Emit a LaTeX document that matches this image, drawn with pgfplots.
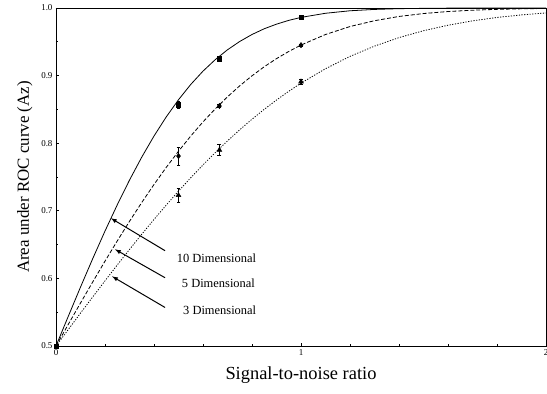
\documentclass[border=0pt]{standalone}
\usepackage{fontspec}
\setmainfont{Liberation Serif}
\usepackage{pgfplots}
\pgfplotsset{compat=1.18}
\begin{document}
\begin{tikzpicture}
\begin{axis}[name=ax,
  scale only axis, width=490bp, height=338bp,
  xmin=0, xmax=2, ymin=0.5, ymax=1.0,
  xtick={0,1,2}, ytick={0.5,0.6,0.7,0.8,0.9,1.0},
  yticklabels={0.5,0.6,0.7,0.8,0.9,1.0},
  minor x tick num=4, minor y tick num=1,
  tick pos=left, tick align=inside,
  major tick length=3pt, minor tick length=2pt,
  axis line style={line width=0.9pt},
  tick style={line width=0.7pt, black},
  tick label style={font=\fontsize{9}{10}\selectfont},
  /pgf/number format/assume math mode=true,
  xlabel={Signal-to-noise ratio}, ylabel={Area under ROC curve (Az)},
  xlabel style={font=\fontsize{18.5}{21}\selectfont, yshift=-4pt},
  ylabel style={font=\fontsize{17}{20}\selectfont, yshift=2pt},
  clip=false,
]
% 10 dimensional curve
\addplot[black, line width=0.8pt] coordinates {
(0,0.5) (0.05,0.5438) (0.1,0.5871) (0.15,0.6293) (0.2,0.6700) (0.25,0.7088)
(0.3,0.7454) (0.35,0.7794) (0.4,0.8106) (0.45,0.8389) (0.5,0.8643) (0.55,0.8869)
(0.6,0.9066) (0.65,0.9236) (0.7,0.9382) (0.75,0.9505) (0.8,0.9608) (0.85,0.9693)
(0.9,0.9761) (0.95,0.9817) (1.0,0.9861) (1.1,0.9922) (1.2,0.9959) (1.3,0.9979)
(1.4,0.9990) (1.5,0.9995) (1.6,0.9998) (1.7,0.9999) (1.8,1.0) (1.9,1.0) (2.0,1.0)};
% 5 dimensional curve
\addplot[black, line width=0.8pt, dash pattern=on 4pt off 2pt] coordinates {
(0,0.5) (0.05,0.5319) (0.1,0.5636) (0.15,0.5948) (0.2,0.6255) (0.25,0.6554)
(0.3,0.6844) (0.35,0.7123) (0.4,0.7389) (0.45,0.7642) (0.5,0.7881) (0.55,0.8106)
(0.6,0.8315) (0.65,0.8508) (0.7,0.8686) (0.75,0.8849) (0.8,0.8997) (0.85,0.9131)
(0.9,0.9251) (0.95,0.9357) (1.0,0.9452) (1.1,0.9608) (1.2,0.9726) (1.3,0.9812)
(1.4,0.9875) (1.5,0.9918) (1.6,0.9948) (1.7,0.9967) (1.8,0.9980) (1.9,0.9988) (2.0,0.9993)};
% 3 dimensional curve
\addplot[black, line width=0.8pt, dash pattern=on 1.2pt off 1.5pt] coordinates {
(0,0.5) (0.05,0.5243) (0.1,0.5486) (0.15,0.5726) (0.2,0.5964) (0.25,0.6198)
(0.3,0.6428) (0.35,0.6653) (0.4,0.6872) (0.45,0.7085) (0.5,0.7291) (0.55,0.7489)
(0.6,0.7679) (0.65,0.7861) (0.7,0.8034) (0.75,0.8199) (0.8,0.8355) (0.85,0.8501)
(0.9,0.8639) (0.95,0.8768) (1.0,0.8888) (1.1,0.9102) (1.2,0.9284) (1.3,0.9436)
(1.4,0.9562) (1.5,0.9664) (1.6,0.9745) (1.7,0.9810) (1.8,0.9860) (1.9,0.9898) (2.0,0.9927)};
% data points with error bars
\addplot[only marks, mark=square*, mark size=2.2pt, black,
  error bars/.cd, y dir=both, y explicit, error bar style={line width=0.6pt}, error mark options={rotate=90, mark size=2pt}]
  coordinates {(0,0.5) +- (0,0) (0.5,0.857) +- (0,0.005) (0.667,0.925) +- (0,0.003) (1,0.986) +- (0,0.002)};
\addplot[only marks, mark=diamond*, mark size=2.7pt, black,
  error bars/.cd, y dir=both, y explicit, error bar style={line width=0.6pt}, error mark options={rotate=90, mark size=2pt}]
  coordinates {(0.5,0.781) +- (0,0.013) (0.667,0.855) +- (0,0.002) (1,0.945) +- (0,0.002)};
\addplot[only marks, mark=triangle*, mark size=2.8pt, black,
  error bars/.cd, y dir=both, y explicit, error bar style={line width=0.6pt}, error mark options={rotate=90, mark size=2pt}]
  coordinates {(0.5,0.723) +- (0,0.01) (0.667,0.790) +- (0,0.008) (1,0.891) +- (0,0.003)};
% arrows and labels
\draw[-latex, line width=1pt] (axis cs:0.445,0.641) -- (axis cs:0.224,0.689);
\draw[-latex, line width=1pt] (axis cs:0.445,0.601) -- (axis cs:0.241,0.643);
\draw[-latex, line width=1pt] (axis cs:0.445,0.557) -- (axis cs:0.229,0.603);
\node[font=\fontsize{12.5}{14}\selectfont] at (axis cs:0.655,0.630) {10 Dimensional};
\node[font=\fontsize{12.5}{14}\selectfont] at (axis cs:0.663,0.593) {5 Dimensional};
\node[font=\fontsize{12.5}{14}\selectfont] at (axis cs:0.668,0.553) {3 Dimensional};
\end{axis}
\pgfresetboundingbox
\path ([xshift=-56bp,yshift=-48bp]ax.south west) rectangle ([xshift=1bp,yshift=8bp]ax.north east);
\end{tikzpicture}
\end{document}
